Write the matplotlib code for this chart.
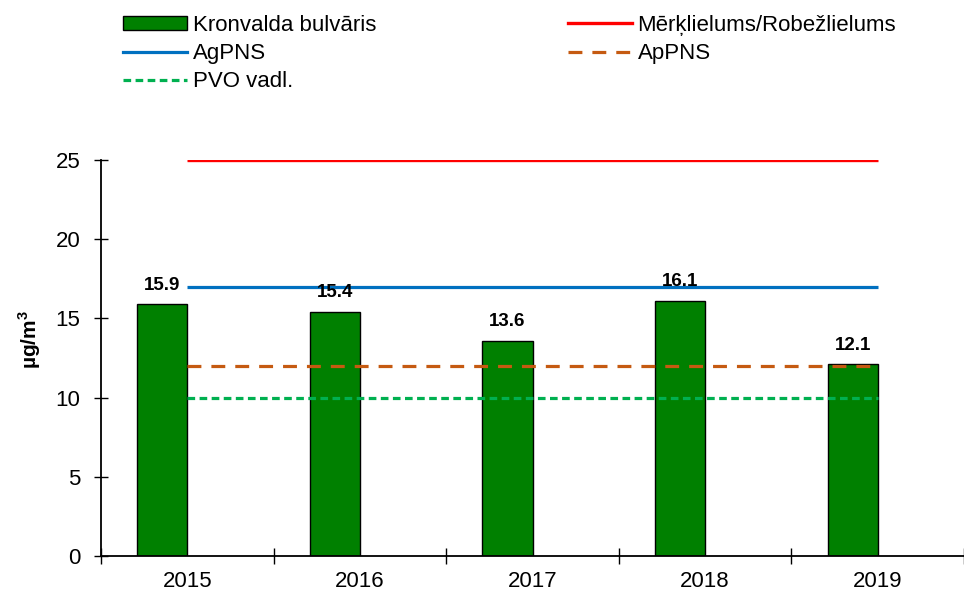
import matplotlib
matplotlib.use("Agg")
import matplotlib.pyplot as plt
from matplotlib.lines import Line2D
from matplotlib.patches import Patch

plt.rcParams['font.family'] = ['Liberation Sans', 'DejaVu Sans']
plt.rcParams['lines.scale_dashes'] = False
plt.rcParams['mathtext.fontset'] = 'custom'
plt.rcParams['mathtext.rm'] = 'Liberation Sans'
plt.rcParams['mathtext.bf'] = 'Liberation Sans:bold'

years = ["2015", "2016", "2017", "2018", "2019"]
kronvalda = [15.9, 15.4, 13.6, 16.1, 12.1]
merklielums = [25, 25, 25, 25, 25]
agpns = [17, 17, 17, 17, 17]
appns = [12, 12, 12, 12, 12]
pvo = [10, 10, 10, 10, 10]

fig = plt.figure(figsize=(9.64, 5.94), dpi=100)
ax = fig.add_axes([0.1048, 0.064, 1.0 - 0.1048, 0.7306 - 0.064])

x = list(range(len(years)))
bar_w = 0.29
ax.bar([xi - bar_w for xi in x], kronvalda, width=bar_w, align='edge',
       color='#008000', edgecolor='black', linewidth=1.0, zorder=2)

for xi, v in zip(x, kronvalda):
    ax.annotate(f"{v:.1f}", (xi - bar_w / 2, v), xytext=(0, 10.5),
                textcoords='offset points', ha='center', va='baseline',
                fontsize=13.5, fontweight='bold', color='black', zorder=5)

ax.plot(x, merklielums, color='#FF0000', lw=2.4, zorder=3, solid_capstyle='butt')
ax.plot(x, agpns, color='#0070C0', lw=2.3, zorder=3, solid_capstyle='butt')
ax.plot(x, appns, color='#C55A11', lw=2.3, zorder=3, dashes=(10, 7.2), dash_capstyle='butt')
ax.plot(x, pvo, color='#00B050', lw=2.3, zorder=3, dashes=(5.5, 3.2), dash_capstyle='butt')

span = 173.75
ax.set_xlim(-0.5, -0.5 + (964 - 101) / span)
ax.set_ylim(0, 25)
ax.set_yticks([0, 5, 10, 15, 20, 25])

ax.set_xticks([i - 0.5 for i in range(len(years) + 1)])
ax.set_xticklabels([])
ax.set_xticks(x, minor=True)
ax.set_xticklabels(years, minor=True)
ax.tick_params(axis='x', which='major', direction='inout', length=11, width=1.0, color='black')
ax.tick_params(axis='x', which='minor', length=0, pad=11, labelsize=16)
ax.tick_params(axis='y', direction='inout', length=10, width=1.0, pad=10, labelsize=16)

for s in ['top', 'right']:
    ax.spines[s].set_visible(False)
for s in ['left', 'bottom']:
    ax.spines[s].set_linewidth(1.3)
    ax.spines[s].set_color('black')

fig.text(30 / 964, 1 - 340 / 594, r"µg/m$^{\mathbf{3}}$", rotation=90, ha='center',
         va='center', fontsize=15, fontweight='bold')

h_bar = Patch(facecolor='#008000', edgecolor='black', linewidth=1.0)
h_red = Line2D([], [], color='#FF0000', lw=2.4)
h_blue = Line2D([], [], color='#0070C0', lw=2.3)
h_orange = Line2D([], [], color='#C55A11', lw=2.3, dashes=(10, 7.2))
h_green = Line2D([], [], color='#00B050', lw=2.3, dashes=(5.5, 3.2))

common = dict(loc='upper left', frameon=False, fontsize=16, handlelength=2.9,
              handleheight=0.6, handletextpad=0.23, labelspacing=0.32,
              borderpad=0, borderaxespad=0)
fig.legend([h_bar, h_blue, h_green], ["Kronvalda bulvāris", "AgPNS", "PVO vadl."],
           bbox_to_anchor=(123 / 964, 0.975), **common)
fig.legend([h_red, h_orange], ["Mērķlielums/Robežlielums", "ApPNS"],
           bbox_to_anchor=(568 / 964, 0.975), **common)

fig.savefig("out.png", dpi=100)
